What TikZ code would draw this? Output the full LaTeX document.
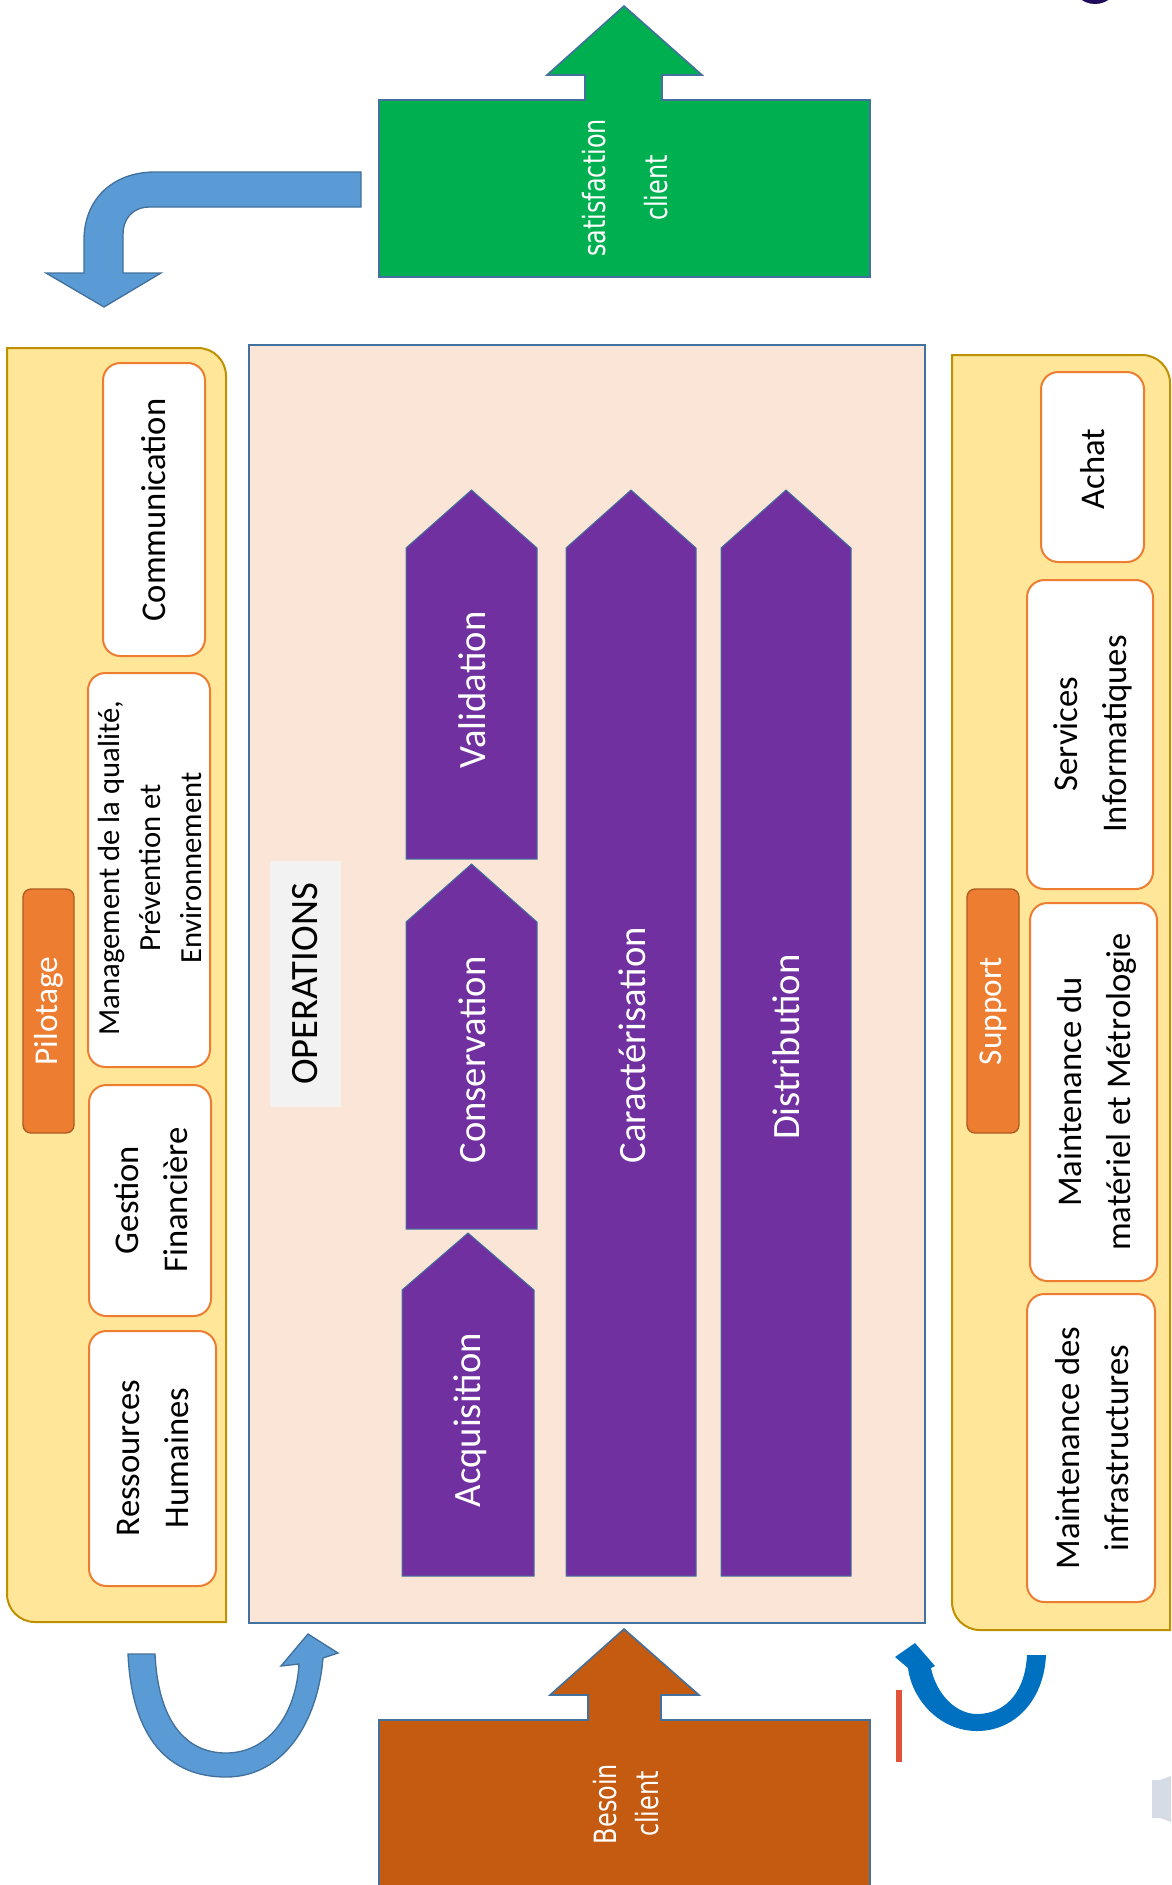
\documentclass[tikz,border=0pt]{standalone}
\usepackage{fontspec}
\setmainfont{Carlito}
\newfontfamily\verdanafont{DejaVu Sans}
\usepackage{tikz}

\begin{document}
\begin{tikzpicture}[x=0.75pt,y=0.75pt,yscale=-1,xscale=1,
  panel/.style={draw={rgb, 255:red, 191; green, 144; blue, 0}, fill={rgb, 255:red, 255; green, 230; blue, 153}, line width=1.5},
  itembox/.style={draw={rgb, 255:red, 237; green, 125; blue, 49}, fill=white, line width=1.5, rounded corners=13pt},
  tabbox/.style={draw={rgb, 255:red, 174; green, 90; blue, 33}, fill={rgb, 255:red, 237; green, 125; blue, 49}, line width=1, rounded corners=6pt},
  stage/.style={draw={rgb, 255:red, 65; green, 113; blue, 156}, fill={rgb, 255:red, 112; green, 48; blue, 160}, line width=0.75},
  bigarrow/.style={draw={rgb, 255:red, 65; green, 113; blue, 156}, line width=1.2},
  itemtext/.style={rotate=90, align=center, inner sep=0.75pt, font=\fontsize{26}{37}\selectfont},
  stagetext/.style={rotate=90, inner sep=0.75pt, text=white, font=\fontsize{29}{35}\selectfont},
  tabtext/.style={rotate=90, inner sep=0.75pt, text=white, font=\fontsize{25}{30}\selectfont},
  bigtext/.style={rotate=90, xscale=0.78, align=center, inner sep=0.75pt, text=white, font=\verdanafont\fontsize{23}{46}\selectfont}
]
\useasboundingbox (0,0) rectangle (1171,1885);
\clip (0,0) rectangle (1171,1885);

%Shape: Ellipse (top corner)
\fill [color={rgb, 255:red, 32; green, 12; blue, 90 }] (1095,-22) ellipse (25 and 26);
%Shape: Bottom corner piece
\fill [color={rgb, 255:red, 214; green, 220; blue, 229 }] (1152,1780) -- (1160,1780) -- (1171,1776) -- (1171,1822) -- (1160,1818) -- (1152,1818) -- cycle;

%Shape: Up Arrow Callout [satisfaction]
\draw [bigarrow, fill={rgb, 255:red, 0; green, 176; blue, 80 }] (379,277) -- (379,100) -- (585,100) -- (585,75) -- (547,75) -- (624,6) -- (702,75) -- (662,75) -- (662,100) -- (870,100) -- (870,277) -- cycle ;
%Shape: Bent Arrow
\draw [bigarrow, line width=1, fill={rgb, 255:red, 91; green, 155; blue, 213 }] (361,172) -- (155,172) .. controls (112,172) and (84,200) .. (84,240) -- (84,273) -- (46,273) -- (104,307) -- (161,273) -- (123,273) -- (123,235) .. controls (123,218) and (133,207) .. (150,207) -- (361,207) -- cycle ;

%Shape: Pilotage panel
\draw [panel] (7,348) -- (198,348) .. controls (213.5,348) and (226,360.5) .. (226,376) -- (226,1622) -- (35,1622) .. controls (19.5,1622) and (7,1609.5) .. (7,1594) -- cycle ;
%Shape: Support panel
\draw [panel] (952,355) -- (1142,355) .. controls (1157.5,355) and (1170,367.5) .. (1170,383) -- (1170,1630) -- (980,1630) .. controls (964.5,1630) and (952,1617.5) .. (952,1602) -- cycle ;
%Shape: Operations rectangle
\draw [draw={rgb, 255:red, 65; green, 113; blue, 156 }, fill={rgb, 255:red, 251; green, 229; blue, 214 }, line width=1.5] (249,345) rectangle (925,1623) ;
\fill [color={rgb, 255:red, 242; green, 242; blue, 242 }] (270,861) rectangle (341,1107) ;

%Shape: Rounded Rectangles (pilotage)
\draw [itembox] (103,363) rectangle (205,656) ;
\draw [itembox] (88,673) rectangle (210,1067) ;
\draw [itembox] (89,1085) rectangle (211,1316) ;
\draw [itembox] (89,1331) rectangle (216,1586) ;
\draw [tabbox] (23,889) rectangle (74,1133) ;
%Shape: Rounded Rectangles (support)
\draw [itembox] (1041,372) rectangle (1144,562) ;
\draw [itembox] (1027,580) rectangle (1153,889) ;
\draw [itembox] (1030,903) rectangle (1157,1281) ;
\draw [itembox] (1027,1294) rectangle (1155,1602) ;
\draw [tabbox] (967,889) rectangle (1019,1133) ;

%Shape: Pentagons
\draw [stage] (406,859) -- (406,548) -- (471.5,490) -- (537,548) -- (537,859) -- cycle ;
\draw [stage] (406,1229) -- (406,922) -- (471.5,864) -- (537,922) -- (537,1229) -- cycle ;
\draw [stage] (402,1576) -- (402,1290) -- (468,1233) -- (534,1290) -- (534,1576) -- cycle ;
\draw [stage] (566,1576) -- (566,548) -- (631,490) -- (696,548) -- (696,1576) -- cycle ;
\draw [stage] (721,1576) -- (721,548) -- (786,490) -- (851,548) -- (851,1576) -- cycle ;

%Shape: Up Arrow Callout [besoin]
\draw [bigarrow, fill={rgb, 255:red, 197; green, 90; blue, 17 }] (379,1890) -- (379,1720) -- (588,1720) -- (588,1695) -- (550,1695) -- (624,1629) -- (699,1695) -- (661,1695) -- (661,1720) -- (870,1720) -- (870,1890) ;
%Shape: U-Turn Arrow (left)
\draw [bigarrow, line width=1, fill={rgb, 255:red, 91; green, 155; blue, 213 }] (128,1654) .. controls (132,1740) and (170,1777) .. (226,1777) .. controls (285,1777) and (318,1720) .. (323,1658) -- (338,1653) -- (308,1634) -- (281,1666) -- (299,1664) .. controls (296,1715) and (268,1753) .. (226,1753) .. controls (185,1753) and (158,1720) .. (155,1654) -- cycle ;
%Shape: U-Turn Arrow (right)
\fill [color={rgb, 255:red, 0; green, 112; blue, 192 }] (1046,1655) .. controls (1044,1700) and (1015,1731) .. (977,1731) .. controls (940,1731) and (912,1700) .. (908,1668) -- (895,1657) -- (915,1643) -- (935,1666) -- (931,1668) .. controls (936,1693) and (955,1714) .. (977,1714) .. controls (1003,1714) and (1025,1695) .. (1027,1655) -- cycle ;
%Straight Lines
\draw [color={rgb, 255:red, 224; green, 83; blue, 58 }, line width=4] (899,1690) -- (899,1762) ;

% Text Node
\node [bigtext] (satisf) at (625,188) {satisfaction\\client};
% Text Node
\node [bigtext, font=\verdanafont\fontsize{23}{32}\selectfont] (besoin) at (626,1804) {Besoin\\client};
% Text Node
\node [itemtext] (comm) at (154,510) {Communication};
% Text Node
\node [itemtext, font=\fontsize{23}{31}\selectfont] (mgmt) at (150,868) {Management de la qualité,\\Prévention et\\Environnement};
% Text Node
\node [itemtext] (gestion) at (151,1200) {Gestion\\Financière};
% Text Node
\node [itemtext] (rh) at (153,1458) {Ressources\\Humaines};
% Text Node
\node [tabtext] (pilotage) at (49,1011) {Pilotage};
% Text Node
\node [itemtext] (achat) at (1093,469) {Achat};
% Text Node
\node [itemtext] (services) at (1093,734) {Services\\Informatiques};
% Text Node
\node [itemtext] (maintmat) at (1097,1092) {Maintenance du\\matériel et Métrologie};
% Text Node
\node [itemtext] (maintinfra) at (1092,1448) {Maintenance des\\infrastructures};
% Text Node
\node [tabtext] (support) at (993,1011) {Support};
% Text Node
\node [rotate=90, inner sep=0.75pt, font=\fontsize{29}{35}\selectfont] (ops) at (305,984) {OPERATIONS};
% Text Node
\node [stagetext] (valid) at (472,690) {Validation};
% Text Node
\node [stagetext] (conserv) at (472,1060) {Conservation};
% Text Node
\node [stagetext] (acq) at (470,1420) {Acquisition};
% Text Node
\node [stagetext] (caract) at (632,1045) {Caractérisation};
% Text Node
\node [stagetext] (distrib) at (786,1047) {Distribution};

\end{tikzpicture}
\end{document}
